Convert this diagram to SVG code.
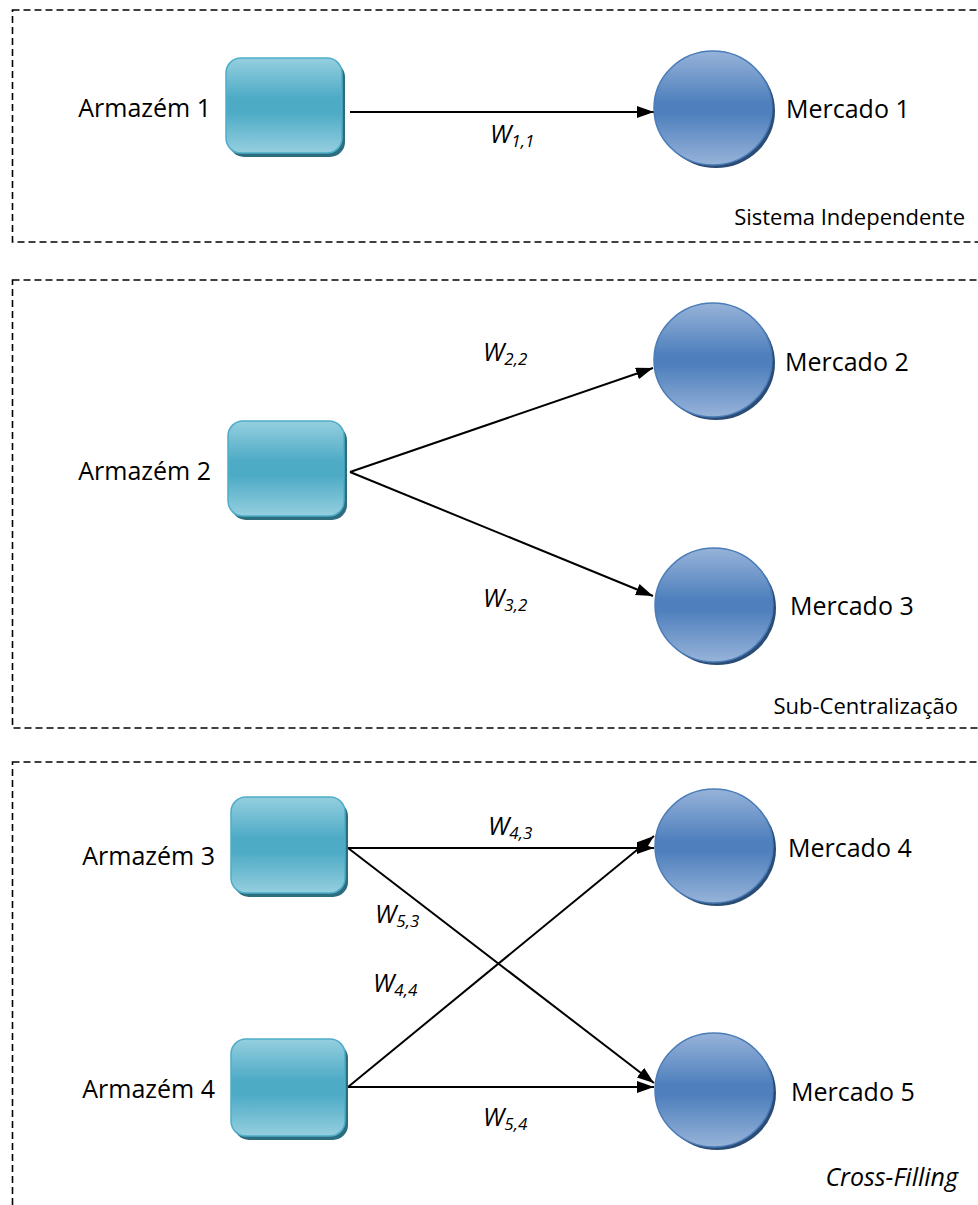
<svg xmlns="http://www.w3.org/2000/svg" width="978" height="1205" viewBox="0 0 978 1205">
  <style>
    .frame { fill: none; stroke: #000; stroke-width: 1.6; stroke-dasharray: 7 4; }
    .lbl { font-family: "Open Sans", "Noto Sans", sans-serif; font-size: 25px; fill: #000; }
    .sec { font-family: "Open Sans", "Noto Sans", sans-serif; font-size: 22px; fill: #000; }
    .secItalic { font-size: 25px; font-style: italic; }
    .w { font-family: "Open Sans", "Noto Sans", sans-serif; font-size: 25px; font-style: italic; fill: #000; }
    .sub { font-size: 17px; }
    .edge { stroke: #000; stroke-width: 2; fill: none; marker-end: url(#arrow); }
    .box { fill: url(#boxGrad); stroke: #4eadc8; stroke-width: 1.5; }
    .boxShadow { fill: #2c6d7e; }
    .disc { fill: url(#discGrad); stroke: #4a7cb8; stroke-width: 1.5; }
    .discShadow { fill: #2b4c74; }
  </style>
  <defs>
    <linearGradient id="boxGrad" x1="0" y1="0" x2="0" y2="1">
      <stop offset="0" stop-color="#95cfdf"/>
      <stop offset="0.42" stop-color="#4eabc6"/>
      <stop offset="0.58" stop-color="#4eabc6"/>
      <stop offset="1" stop-color="#95cfdf"/>
    </linearGradient>
    <linearGradient id="discGrad" x1="0" y1="0" x2="0" y2="1">
      <stop offset="0" stop-color="#97b3d9"/>
      <stop offset="0.45" stop-color="#4f80bd"/>
      <stop offset="0.55" stop-color="#4f80bd"/>
      <stop offset="1" stop-color="#97b3d9"/>
    </linearGradient>
    <marker id="arrow" markerUnits="userSpaceOnUse" markerWidth="18" markerHeight="14" refX="17" refY="6" orient="auto">
      <path d="M0,0 L17,6 L0,12 Z" fill="#000"/>
    </marker>
  </defs>

  <!-- dashed section frames -->
  <g id="frames">
    <rect class="frame" x="12.5" y="10" width="990" height="232"/>
    <rect class="frame" x="12.5" y="280" width="990" height="448"/>
    <rect class="frame" x="12.5" y="762" width="990" height="480"/>
  </g>

  <!-- connectors -->
  <g id="connectors">
    <line class="edge" x1="350" y1="112" x2="654" y2="112"/>
    <line class="edge" x1="350" y1="472" x2="653" y2="368"/>
    <line class="edge" x1="350" y1="472" x2="653" y2="596"/>
    <line class="edge" x1="348" y1="848" x2="654" y2="848"/>
    <line class="edge" x1="348" y1="848" x2="654" y2="1083"/>
    <line class="edge" x1="348" y1="1087" x2="654" y2="836"/>
    <line class="edge" x1="348" y1="1087" x2="654" y2="1087"/>
  </g>

  <!-- connector labels -->
  <g id="edge-labels">
    <text class="w" x="490" y="143">W<tspan class="sub" dy="4">1,1</tspan></text>
    <text class="w" x="483" y="361">W<tspan class="sub" dy="4">2,2</tspan></text>
    <text class="w" x="483" y="607">W<tspan class="sub" dy="4">3,2</tspan></text>
    <text class="w" x="488" y="835">W<tspan class="sub" dy="4">4,3</tspan></text>
    <text class="w" x="375" y="923">W<tspan class="sub" dy="4">5,3</tspan></text>
    <text class="w" x="373" y="992">W<tspan class="sub" dy="4">4,4</tspan></text>
    <text class="w" x="483" y="1126">W<tspan class="sub" dy="4">5,4</tspan></text>
  </g>

  <!-- warehouses -->
  <g id="armazem1">
    <rect class="boxShadow" x="229" y="62" width="116" height="95" rx="15"/>
    <rect class="box" x="226" y="58" width="116" height="95" rx="15"/>
    <text class="lbl" x="211" y="117" text-anchor="end">Armazém 1</text>
  </g>
  <g id="armazem2">
    <rect class="boxShadow" x="231" y="425" width="116" height="95" rx="15"/>
    <rect class="box" x="228" y="421" width="116" height="95" rx="15"/>
    <text class="lbl" x="211" y="480" text-anchor="end">Armazém 2</text>
  </g>
  <g id="armazem3">
    <rect class="boxShadow" x="234" y="801" width="114" height="96" rx="15"/>
    <rect class="box" x="231" y="797" width="114" height="96" rx="15"/>
    <text class="lbl" x="215" y="865" text-anchor="end">Armazém 3</text>
  </g>
  <g id="armazem4">
    <rect class="boxShadow" x="234" y="1043" width="114" height="97" rx="15"/>
    <rect class="box" x="231" y="1039" width="114" height="97" rx="15"/>
    <text class="lbl" x="215" y="1098" text-anchor="end">Armazém 4</text>
  </g>

  <!-- markets -->
  <g id="mercado1">
    <ellipse class="discShadow" cx="716" cy="111" rx="59" ry="57"/>
    <ellipse class="disc" cx="713" cy="108" rx="59" ry="57"/>
    <text class="lbl" x="786" y="118">Mercado 1</text>
  </g>
  <g id="mercado2">
    <ellipse class="discShadow" cx="716" cy="363" rx="59" ry="57"/>
    <ellipse class="disc" cx="713" cy="360" rx="59" ry="57"/>
    <text class="lbl" x="785" y="371">Mercado 2</text>
  </g>
  <g id="mercado3">
    <ellipse class="discShadow" cx="717" cy="608" rx="59" ry="57"/>
    <ellipse class="disc" cx="714" cy="605" rx="59" ry="57"/>
    <text class="lbl" x="790" y="615">Mercado 3</text>
  </g>
  <g id="mercado4">
    <ellipse class="discShadow" cx="717" cy="849" rx="59" ry="57"/>
    <ellipse class="disc" cx="714" cy="846" rx="59" ry="57"/>
    <text class="lbl" x="788" y="857">Mercado 4</text>
  </g>
  <g id="mercado5">
    <ellipse class="discShadow" cx="717" cy="1093" rx="59" ry="57"/>
    <ellipse class="disc" cx="714" cy="1090" rx="59" ry="57"/>
    <text class="lbl" x="791" y="1101">Mercado 5</text>
  </g>

  <!-- section captions -->
  <g id="captions">
    <text class="sec" x="965" y="225" text-anchor="end">Sistema Independente</text>
    <text class="sec" x="958" y="714" text-anchor="end">Sub-Centralização</text>
    <text class="sec secItalic" x="958" y="1186" text-anchor="end">Cross-Filling</text>
  </g>
</svg>
